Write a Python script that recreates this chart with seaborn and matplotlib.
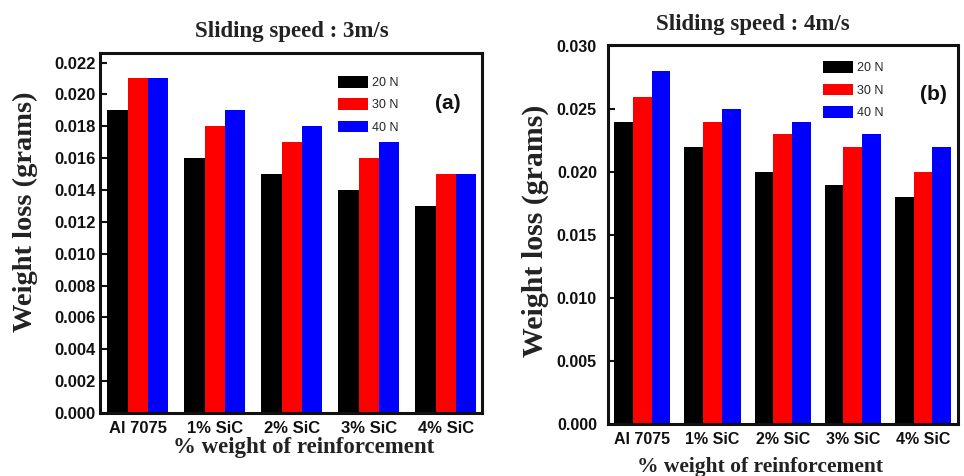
import matplotlib
matplotlib.use("Agg")
import matplotlib.pyplot as plt
import seaborn as sns
import pandas as pd

categories = ["Al 7075", "1% SiC", "2% SiC", "3% SiC", "4% SiC"]
loads = ["20 N", "30 N", "40 N"]
speed3_20N = [0.019, 0.016, 0.015, 0.014, 0.013]
speed3_30N = [0.021, 0.018, 0.017, 0.016, 0.015]
speed3_40N = [0.021, 0.019, 0.018, 0.017, 0.015]
speed4_20N = [0.024, 0.022, 0.020, 0.019, 0.018]
speed4_30N = [0.026, 0.024, 0.023, 0.022, 0.020]
speed4_40N = [0.028, 0.025, 0.024, 0.023, 0.022]
yticks_a = [0.000, 0.002, 0.004, 0.006, 0.008, 0.010, 0.012, 0.014, 0.016, 0.018, 0.020, 0.022]
yticks_b = [0.000, 0.005, 0.010, 0.015, 0.020, 0.025, 0.030]
colors = ["#000000", "#ff0000", "#0000ff"]


def long_df(series):
    rows = []
    for load, vals in zip(loads, series):
        for c, v in zip(categories, vals):
            rows.append({"cat": c, "load": load, "val": v})
    return pd.DataFrame(rows)


df_a = long_df([speed3_20N, speed3_30N, speed3_40N])
df_b = long_df([speed4_20N, speed4_30N, speed4_40N])

sns.set_theme(style="ticks")
plt.rcParams["font.family"] = ["Liberation Sans", "DejaVu Sans"]

fig = plt.figure(figsize=(9.64, 4.76), dpi=100)
ax_a = fig.add_axes([0.1037, 0.1324, 0.3963, 0.7563])
ax_b = fig.add_axes([0.6307, 0.1092, 0.3631, 0.7963])

serif = ["Liberation Serif", "DejaVu Serif"]

panels = [
    (ax_a, df_a, yticks_a, (0, 0.0226), (-0.49, 4.47), "Sliding speed : 3m/s", "(a)",
     12, 0.79, (0.303, 0.933), (0.534, -0.097), (-0.196, 0.558), 16.5, 20.5,
     (0.61, 0.95), (0.91, 0.861), 3),
    (ax_b, df_b, yticks_b, (0, 0.0301), (-0.49, 4.5), "Sliding speed : 4m/s", "(b)",
     11.5, 0.80, (0.781, 0.948), (0.434, -0.1135), (-0.209, 0.509), 15.5, 21.5,
     (0.6, 0.97), (0.93, 0.87), 8),
]

for (ax, df, yt, ylim, xlim, title, tag, tfs, width, tpos, xlpos, ylpos,
     xlfs, ylfs, legpos, tagpos, ypad) in panels:
    sns.barplot(data=df, x="cat", y="val", hue="load", hue_order=loads,
                order=categories, palette=colors, width=width, gap=0,
                linewidth=0, saturation=1, ax=ax, errorbar=None)
    ax.set_xlim(*xlim)
    ax.set_ylim(*ylim)
    ax.set_yticks(yt)
    ax.set_yticklabels([f"{v:.3f}" for v in yt], fontsize=tfs, fontweight="bold")
    ax.set_xticks(range(len(categories)))
    ax.set_xticklabels(categories, fontsize=tfs, fontweight="bold")
    ax.tick_params(axis="y", direction="in", length=5, width=1.5, pad=ypad, colors="#111111")
    ax.tick_params(axis="x", direction="in", length=5, width=1.5, pad=6, colors="#111111")
    for sp in ax.spines.values():
        sp.set_visible(True)
        sp.set_linewidth(2.2)
        sp.set_color("#111111")
    ax.set_xlabel("% weight of reinforcement", fontsize=xlfs, fontweight="bold",
                  family=serif, color="#222222")
    ax.xaxis.set_label_coords(*xlpos)
    ax.xaxis.label.set_va("center")
    ax.set_ylabel("Weight loss (grams)", fontsize=ylfs, fontweight="bold",
                  family=serif, color="#222222")
    ax.yaxis.set_label_coords(*ylpos)
    ax.yaxis.label.set_va("center")
    fig.text(tpos[0], tpos[1], title, ha="center", va="center", fontsize=16.5,
             fontweight="bold", family=serif, color="#222222")
    handles, labels = ax.get_legend_handles_labels()
    ax.legend(handles, labels, loc="upper left", bbox_to_anchor=legpos,
              frameon=False, fontsize=9, handlelength=2.4, handleheight=1.05,
              handletextpad=0.3, labelspacing=0.75, borderaxespad=0)
    ax.text(tagpos[0], tagpos[1], tag, transform=ax.transAxes, ha="center",
            va="center", fontsize=15, fontweight="bold", color="#111111")

fig.savefig("out.png", dpi=100)
